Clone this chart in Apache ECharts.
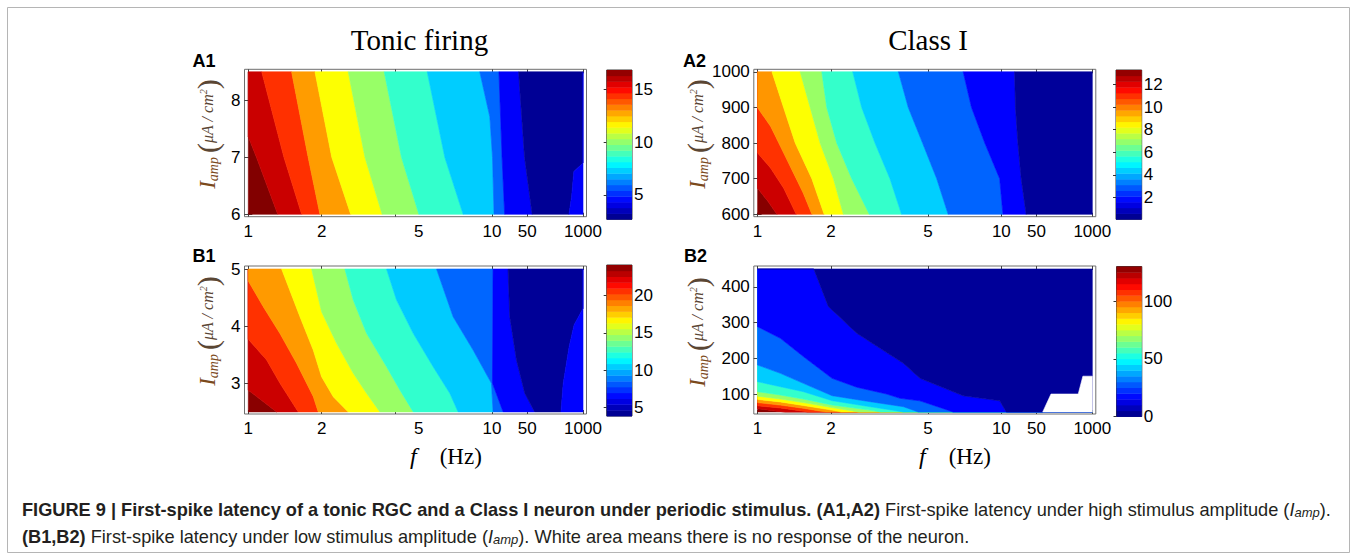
<!DOCTYPE html>
<html><head><meta charset="utf-8">
<script src="https://cdn.jsdelivr.net/npm/echarts@6/dist/echarts.min.js"></script>
<style>html,body{margin:0;padding:0;background:#fff}#c{width:1357px;height:558px}</style>
</head><body><div id="c"></div>
<script>
// ---------------- DATA ----------------
const FREQ_TICKS = [1, 2, 5, 10, 50, 1000];               // f (Hz) tick labels
const FREQ_TICK_MARKS_LEFT = [1, 2, 4, 10, 50, 1000];     // tick marks drawn in the left column
const A1_I_RANGE = [6, 8.5],   A1_I_TICKS = [6, 7, 8];
const A2_I_RANGE = [600, 1000], A2_I_TICKS = [600, 700, 800, 900, 1000];
const B1_I_RANGE = [2.5, 5],   B1_I_TICKS = [3, 4, 5];
const B2_I_RANGE = [50, 450],  B2_I_TICKS = [100, 200, 300, 400];
// colour-bar (latency) ranges and ticks
const A1_CBAR = [2.7, 16.83], A1_CB_TICKS = [5, 10, 15];
const A2_CBAR = [0.05, 13.3], A2_CB_TICKS = [2, 4, 6, 8, 10, 12];
const B1_CBAR = [3.83, 24.1], B1_CB_TICKS = [5, 10, 15, 20];
const B2_CBAR = [0, 130],     B2_CB_TICKS = [0, 50, 100];

// contour boundaries, each a polyline of [f (Hz), I_amp], ordered band by band
const A1_BOUNDS = [
  [[1,8.5],[1,6]],
  [[1,8.5],[1,7.36],[1.08,7],[1.32,6]],
  [[1.135,8.5],[1.40,7],[1.655,6]],
  [[1.505,8.5],[1.76,7],[1.967,6]],
  [[1.877,8.5],[2.20,7],[2.63,6]],
  [[2.57,8.5],[3.01,7],[3.54,6]],
  [[3.61,8.5],[4.25,7],[5.01,6]],
  [[5.42,8.5],[6.40,7],[7.61,6]],
  [[8.90,8.5],[9.79,7.71],[10.2,7],[10.95,6]],
  [[13.7,8.5],[15.8,7],[17.8,6]],
  [[33.7,8.5],[44.3,7],[65.3,6]],
  [[1000,8.5],[1000,6.9],[612,6.75],[542,6.31],[470,6]],
  [[1000,8.5],[1000,6]]
];
const A1_LAT = [16.8, 15.8, 14.4, 12.9, 11.5, 10.1, 8.7, 7.3, 5.9, 4.4, 3.0, 4.4];

const A2_BOUNDS = [
  [[1,1000],[1,600]],
  [[1,1000],[1,673],[1.10,637],[1.20,600]],
  [[1,1000],[1,772],[1.13,730],[1.28,673],[1.44,600]],
  [[1,1000],[1,899],[1.13,847],[1.32,753],[1.54,659],[1.67,600]],
  [[1.145,1000],[1.278,900],[1.427,800],[1.669,700],[1.875,600]],
  [[1.495,1000],[1.643,900],[1.805,800],[2.047,700],[2.249,600]],
  [[1.834,1000],[1.922,900],[2.112,800],[2.433,700],[2.873,600]],
  [[2.456,1000],[2.673,900],[3.031,800],[3.491,700],[3.896,600]],
  [[3.78,1000],[4.15,900],[4.75,800],[5.43,700],[6.05,600]],
  [[6.97,1000],[7.54,900],[8.55,800],[9.84,700],[10.75,600]],
  [[18.3,1000],[19.1,900],[21.3,800],[24.8,700],[31.1,600]],
  [[1000,1000],[1000,600]]
];
const A2_LAT = [13.2, 12.3, 11.0, 9.7, 8.3, 7.0, 5.7, 4.4, 3.0, 1.7, 0.4];

const B1_BOUNDS = [
  [[1,5],[1,2.5]],
  [[1,5],[1,2.88],[1.307,2.5]],
  [[1,5],[1,3.77],[1.189,3.41],[1.349,3.0],[1.603,2.5]],
  [[1,5],[1,4.79],[1.152,4.34],[1.349,3.87],[1.578,3.35],[1.847,2.77],[1.936,2.5]],
  [[1.370,5],[1.629,4.165],[1.847,3.582],[1.998,3.115],[2.231,2.766],[2.570,2.5]],
  [[1.818,5],[1.998,4.252],[2.302,3.699],[2.695,3.175],[3.056,2.825],[3.465,2.5]],
  [[2.490,5],[2.695,4.456],[3.056,3.874],[3.691,3.290],[4.185,2.883],[4.747,2.5]],
  [[3.691,5],[4.057,4.456],[4.747,3.874],[5.732,3.290],[6.709,2.825],[7.258,2.5]],
  [[5.917,5],[6.921,4.165],[8.36,3.582],[9.94,3.0],[10.47,2.5]],
  [[10.47,5],[10.18,3.0],[16.6,2.5]],
  [[20.8,5],[22.5,4.165],[30.6,3.407],[44.8,2.825],[74.6,2.5]],
  [[1000,5],[1000,4.31],[619,4.02],[475,3.64],[346,3.0],[306,2.5]],
  [[1000,5],[1000,2.5]]
];
const B1_LAT = [23.9, 22.6, 20.6, 18.5, 16.5, 14.5, 12.4, 10.4, 8.4, 6.4, 4.3, 6.4];

const B2_BOUNDS = [
  [[1,450],[1,50],[1000,50]],
  [[1,450],[1,59],[1.2,52],[1.3,50],[1000,50]],
  [[1,450],[1,67],[1.24,61],[1.54,52],[1.6,50],[1000,50]],
  [[1,450],[1,76],[1.24,69],[1.54,60],[1.9,50],[1000,50]],
  [[1,450],[1,85],[1.24,78],[1.54,68],[2.02,55],[2.2,50],[1000,50]],
  [[1,450],[1,94],[1.24,86],[1.54,76],[2.02,62],[2.6,50],[1000,50]],
  [[1,450],[1,106.6],[1.24,97.3],[1.54,86],[2.02,69.3],[2.89,55],[3.2,50],[1000,50]],
  [[1,450],[1,134.6],[1.24,120.6],[1.54,106.6],[2.02,81.4],[2.89,64.6],[3.96,50],[1000,50]],
  [[1,450],[1,181.3],[1.24,158],[1.54,130],[2.02,95.4],[2.89,78.6],[3.96,64.6],[4.56,50],[1000,50]],
  [[1,450],[1,288.5],[1.24,256],[1.54,205],[2.02,144],[2.55,119],[3.38,100],[3.84,88],[4.63,81],[6.34,50],[1000,50]],
  [[1,450],[1.70,450],[1.95,345],[2.55,270],[3.38,216],[3.96,186],[4.63,144],[6.97,95],[9.84,81],[12.5,50],[1000,50]],
  [[1,450],[1000,450],[1000,50]]
];
const B2_LAT = [128.7, 120.3, 107.3, 94.3, 81.3, 68.3, 55.3, 42.3, 29.3, 16.3, 3.3];
// region with no response (white) in B2
const B2_NO_RESPONSE = [[70,50],[109,100],[470,100],[603,150],[1000,150],[1000,50]];

// ---------------- axis warp (frequency axis layout) ----------------
const WARP_LOGF = [0, 1, Math.log10(50), 3];
const WARP_U = [0, 1, 1.144, 1.373];
function fToU(f) {
  const lf = Math.log10(f);
  for (let k = 0; k < 3; k++) {
    if (lf <= WARP_LOGF[k + 1] || k === 2) {
      const a = (lf - WARP_LOGF[k]) / (WARP_LOGF[k + 1] - WARP_LOGF[k]);
      return WARP_U[k] + a * (WARP_U[k + 1] - WARP_U[k]);
    }
  }
}
function jet(t) {
  t = Math.max(0, Math.min(1, t));
  const cl = v => Math.round(255 * Math.max(0, Math.min(1, v)));
  const r = cl(Math.min(4 * t - 1.5, -4 * t + 4.5));
  const g = cl(Math.min(4 * t - 0.5, -4 * t + 3.5));
  const b = cl(Math.min(4 * t + 0.5, -4 * t + 2.5));
  return 'rgb(' + r + ',' + g + ',' + b + ')';
}
const CMAP_STEPS = 26;

// ---------------- layout ----------------
const SANS = 'Liberation Sans, Arial, Helvetica, sans-serif';
const SERIF = 'Liberation Serif, Times New Roman, serif';
const PANELS = [
  {bounds: A1_BOUNDS, lat: A1_LAT, iRange: A1_I_RANGE, iTicks: A1_I_TICKS, cbar: A1_CBAR, cbTicks: A1_CB_TICKS,
   grid: {left: 244.5, top: 69.3, width: 342, height: 147.4}, inset: [2.5, 2.4], marks: FREQ_TICK_MARKS_LEFT,
   cb: {left: 606.7, top: 70, width: 25.3, height: 149.3}},
  {bounds: A2_BOUNDS, lat: A2_LAT, iRange: A2_I_RANGE, iTicks: A2_I_TICKS, cbar: A2_CBAR, cbTicks: A2_CB_TICKS,
   grid: {left: 753.8, top: 69.3, width: 342, height: 147.4}, inset: [2.5, 2.4], marks: FREQ_TICKS,
   cb: {left: 1116, top: 70, width: 25.7, height: 149.3}},
  {bounds: B1_BOUNDS, lat: B1_LAT, iRange: B1_I_RANGE, iTicks: B1_I_TICKS, cbar: B1_CBAR, cbTicks: B1_CB_TICKS,
   grid: {left: 244.5, top: 266, width: 342, height: 148}, inset: [3, 2.1], marks: FREQ_TICK_MARKS_LEFT,
   cb: {left: 606.7, top: 265, width: 25.3, height: 151}},
  {bounds: B2_BOUNDS, lat: B2_LAT, iRange: B2_I_RANGE, iTicks: B2_I_TICKS, cbar: B2_CBAR, cbTicks: B2_CB_TICKS,
   grid: {left: 753.8, top: 266, width: 342, height: 148}, inset: [3, 2.1], marks: FREQ_TICKS,
   cb: {left: 1116.5, top: 266.5, width: 25.3, height: 150}, noResponse: B2_NO_RESPONSE}
];
const X_INSET = [3.8, 3.5];

const grids = [], xAxes = [], yAxes = [], series = [];
const uTicks = FREQ_TICKS.map(fToU);
const tickStyle = {color: '#444', width: 1};
PANELS.forEach((P, p) => {
  grids.push(Object.assign({show: true, borderColor: '#6e6e6e', borderWidth: 1, backgroundColor: '#fff'}, P.grid));
  const upx = (WARP_U[3] - 0) / (P.grid.width - X_INSET[0] - X_INSET[1]);
  const xmin = -X_INSET[0] * upx, xmax = WARP_U[3] + X_INSET[1] * upx;
  const ipx = (P.iRange[1] - P.iRange[0]) / (P.grid.height - P.inset[0] - P.inset[1]);
  const ymin = P.iRange[0] - P.inset[1] * ipx, ymax = P.iRange[1] + P.inset[0] * ipx;
  const markU = P.marks.map(fToU);
  ['bottom', 'top'].forEach((pos, k) => xAxes.push({
    type: 'value', gridIndex: p, position: pos, min: xmin, max: xmax,
    axisLine: {show: false}, splitLine: {show: false},
    axisTick: {show: true, inside: true, length: 4, lineStyle: tickStyle, customValues: markU},
    axisLabel: {show: k === 0, customValues: uTicks, margin: 6, color: '#000', fontSize: 17, fontFamily: SANS,
      formatter: v => { let best = 0; uTicks.forEach((u, j) => { if (Math.abs(u - v) < Math.abs(uTicks[best] - v)) best = j; }); return String(FREQ_TICKS[best]); }}
  }));
  ['left', 'right'].forEach((pos, k) => yAxes.push({
    type: 'value', gridIndex: p, position: pos, min: ymin, max: ymax,
    axisLine: {show: false}, splitLine: {show: false},
    axisTick: {show: true, inside: true, length: 4, lineStyle: tickStyle, customValues: P.iTicks},
    axisLabel: {show: k === 0, customValues: P.iTicks, margin: 4, color: '#000', fontSize: 17, fontFamily: SANS,
      formatter: v => String(Math.round(v * 100) / 100)}
  }));
  const span = P.cbar[1] - P.cbar[0];
  series.push({
    type: 'custom', coordinateSystem: 'cartesian2d', xAxisIndex: 2 * p, yAxisIndex: 2 * p,
    silent: true, clip: true, animation: false,
    data: P.lat.map((v, i) => [i, v]),
    renderItem: (params, api) => {
      const i = params.dataIndex;
      const ring = P.bounds[i].concat(P.bounds[i + 1].slice().reverse());
      const pts = ring.map(q => api.coord([fToU(q[0]), q[1]]));
      const c = jet((P.lat[i] - P.cbar[0]) / span);
      return {type: 'polygon', shape: {points: pts}, style: {fill: c, stroke: c, lineWidth: 0.6}};
    }
  });
  if (P.noResponse) {
    series.push({
      type: 'custom', coordinateSystem: 'cartesian2d', xAxisIndex: 2 * p, yAxisIndex: 2 * p,
      silent: true, clip: true, animation: false, data: [[0, 0]], z: 3,
      renderItem: (params, api) => ({type: 'polygon',
        shape: {points: P.noResponse.map(q => api.coord([fToU(q[0]), q[1]]))},
        style: {fill: '#fff', stroke: '#fff', lineWidth: 0.6}})
    });
  }
});
PANELS.forEach((P, p) => {
  const gi = 4 + p;
  grids.push(Object.assign({show: true, borderColor: '#3a3a3a', borderWidth: 1}, P.cb));
  xAxes.push({type: 'value', gridIndex: gi, min: 0, max: 1, show: false});
  ['right', 'left'].forEach((pos, k) => yAxes.push({
    type: 'value', gridIndex: gi, position: pos, min: P.cbar[0], max: P.cbar[1],
    axisLine: {show: false}, splitLine: {show: false},
    axisTick: {show: true, inside: true, length: 3, lineStyle: {color: '#333'}, customValues: P.cbTicks},
    axisLabel: {show: k === 0, customValues: P.cbTicks, margin: 2, color: '#000', fontSize: 17, fontFamily: SANS}
  }));
  const step = (P.cbar[1] - P.cbar[0]) / CMAP_STEPS;
  series.push({
    type: 'custom', coordinateSystem: 'cartesian2d', xAxisIndex: 8 + p, yAxisIndex: 8 + 2 * p,
    silent: true, animation: false, z: 1,
    data: Array.from({length: CMAP_STEPS}, (_, k) => [0.5, P.cbar[0] + (k + 0.5) * step]),
    renderItem: (params, api) => {
      const k = params.dataIndex;
      const lo = P.cbar[0] + k * step, hi = lo + step;
      const a = api.coord([0, hi]), b = api.coord([1, lo]);
      return {type: 'rect', shape: {x: a[0], y: a[1], width: b[0] - a[0], height: b[1] - a[1] + 0.4},
        style: {fill: jet((k + 0.5) / CMAP_STEPS)}};
    }
  });
});

// ---------------- texts ----------------
const graphic = [];
graphic.push({type: 'rect', z: -10, shape: {x: 7.5, y: 7.5, width: 1342, height: 545}, style: {fill: 'none', stroke: '#b5b5b5', lineWidth: 1}});
graphic.push({type: 'text', x: 419.5, y: 40, style: {text: 'Tonic firing', font: '29px ' + SERIF, fill: '#000', textAlign: 'center', textVerticalAlign: 'middle'}});
graphic.push({type: 'text', x: 928, y: 40, style: {text: 'Class I', font: '29px ' + SERIF, fill: '#000', textAlign: 'center', textVerticalAlign: 'middle'}});
[['A1', 192.5, 61], ['A2', 683, 61], ['B1', 192.5, 256], ['B2', 684, 256]].forEach(d =>
  graphic.push({type: 'text', x: d[1], y: d[2], style: {text: d[0], font: 'bold 18px ' + SANS, fill: '#000', textAlign: 'left', textVerticalAlign: 'middle'}}));
const yTitleRich = {
  i: {fontFamily: SERIF, fontStyle: 'italic', fontSize: 23, fill: '#7b4a1c', lineHeight: 30, verticalAlign: 'middle'},
  s: {fontFamily: SERIF, fontStyle: 'italic', fontSize: 14, fill: '#7b4a1c', lineHeight: 14, verticalAlign: 'bottom', padding: [0, 4, 2, 0]},
  p: {fontFamily: SERIF, fontSize: 30, fill: '#5a4634', lineHeight: 30, verticalAlign: 'middle'},
  u: {fontFamily: SERIF, fontStyle: 'italic', fontSize: 16, fill: '#5a4634', lineHeight: 30, verticalAlign: 'middle'},
  sup: {fontFamily: SERIF, fontStyle: 'italic', fontSize: 10, fill: '#5a4634', lineHeight: 10, verticalAlign: 'top', padding: [6, 0, 0, 0]}
};
[[207, 134], [697, 134], [207, 331], [697, 332]].forEach(d =>
  graphic.push({type: 'text', x: d[0], y: d[1], rotation: Math.PI / 2,
    style: {text: '{i|I}{s|amp}{p|(}{u|μA / cm}{sup|2}{p|)}', rich: yTitleRich, textAlign: 'center', textVerticalAlign: 'middle'}}));
const xTitleRich = {
  f: {fontFamily: SERIF, fontStyle: 'italic', fontSize: 24, fill: '#000'},
  h: {fontFamily: SERIF, fontSize: 23, fill: '#000'}
};
[[410, 456], [919, 456]].forEach(d =>
  graphic.push({type: 'text', x: d[0], y: d[1], style: {text: '{f|f}{h|    (Hz)}', rich: xTitleRich, textAlign: 'left', textVerticalAlign: 'middle'}}));
const CAP = 18.2;
const capRich = {
  b: {fontFamily: SANS, fontWeight: 'bold', fontSize: CAP, fill: '#231f20'},
  r: {fontFamily: SANS, fontSize: CAP, fill: '#231f20'},
  i: {fontFamily: SANS, fontStyle: 'italic', fontSize: CAP, fill: '#231f20'},
  sub: {fontFamily: SANS, fontStyle: 'italic', fontSize: 13, fill: '#231f20', verticalAlign: 'bottom', lineHeight: 13}
};
graphic.push({type: 'text', x: 22, y: 510, style: {rich: capRich, textAlign: 'left', textVerticalAlign: 'middle',
  text: '{b|FIGURE 9 | First-spike latency of a tonic RGC and a Class I neuron under periodic stimulus. (A1,A2)}{r| First-spike latency under high stimulus amplitude (}{i|I}{sub|amp}{r|).}'}});
graphic.push({type: 'text', x: 22, y: 537, style: {rich: capRich, textAlign: 'left', textVerticalAlign: 'middle',
  text: '{b|(B1,B2)}{r| First-spike latency under low stimulus amplitude (}{i|I}{sub|amp}{r|). White area means there is no response of the neuron.}'}});

const chart = echarts.init(document.getElementById('c'), null, {renderer: 'svg', width: 1357, height: 558});
chart.setOption({animation: false, backgroundColor: '#fff', grid: grids, xAxis: xAxes, yAxis: yAxes, series: series, graphic: graphic});
</script></body></html>
